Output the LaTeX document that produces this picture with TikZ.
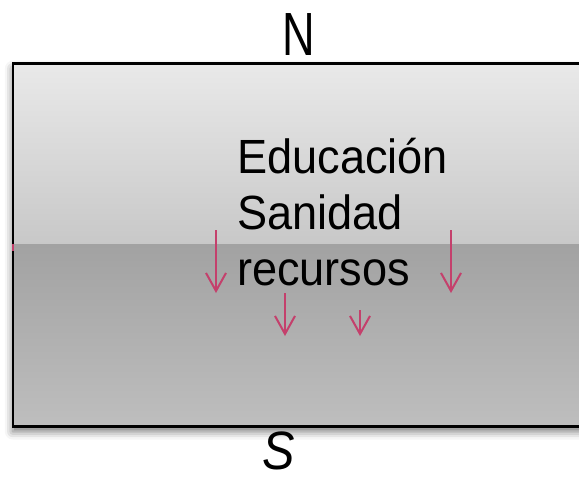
\documentclass[tikz,border=0pt]{standalone}
\usepackage{fontspec}
\usepackage{graphicx}
\setmainfont{Liberation Sans}
\usetikzlibrary{arrows.meta,shadows.blur}
\definecolor{arrowpink}{HTML}{C4406C}
\begin{document}
\begin{tikzpicture}[x=1pt,y=-1pt,
  labeltext/.style={inner sep=0pt,anchor=base west,font=\fontsize{48}{56}\selectfont},
  downarrow/.style={draw=arrowpink,line width=2pt,-{Straight Barb[length=18pt,width=20pt,line width=2pt]}}]
\useasboundingbox (0,0) rectangle (579,483);
\clip (0,0) rectangle (579,483);
% panel with shadow
\fill[white,blur shadow={shadow xshift=0pt,shadow yshift=-5pt,shadow blur radius=8pt,shadow opacity=55}] (12.8,63.7) rectangle (600,426.5);
\shade[top color={rgb,255:red,233;green,233;blue,233},bottom color={rgb,255:red,200;green,200;blue,200}] (12.8,63.7) rectangle (600,244);
\shade[top color={rgb,255:red,162;green,162;blue,162},bottom color={rgb,255:red,190;green,190;blue,190}] (12.8,244) rectangle (600,426.5);
\draw[line width=2.6pt] (12.8,63.7) rectangle (600,426.5);
\fill[arrowpink] (11.5,244) rectangle (14,250.5);
% labels
\node[inner sep=0pt,anchor=base,font=\fontsize{61}{61}\selectfont] (north) at (299,55) {\scalebox{0.74}[1]{N}};
\node[inner sep=0pt,anchor=base,font=\fontsize{54}{54}\selectfont\itshape] (south) at (279,469) {\scalebox{0.9}[1]{S}};
\node[labeltext] (edu) at (237,173) {\scalebox{0.94}[1]{Educación}};
\node[labeltext] (san) at (237,229) {\scalebox{0.94}[1]{Sanidad}};
\node[labeltext] (rec) at (237,285) {\scalebox{0.94}[1]{recursos}};
% arrows
\coordinate (a1s) at (216,230); \coordinate (a1e) at (216,293);
\coordinate (a2s) at (451,230); \coordinate (a2e) at (451,293);
\coordinate (a3s) at (285,293); \coordinate (a3e) at (285,336);
\coordinate (a4s) at (360,310); \coordinate (a4e) at (360,336);
\draw[downarrow] (a1s) -- (a1e);
\draw[downarrow] (a2s) -- (a2e);
\draw[downarrow] (a3s) -- (a3e);
\draw[downarrow] (a4s) -- (a4e);
\end{tikzpicture}
\end{document}
